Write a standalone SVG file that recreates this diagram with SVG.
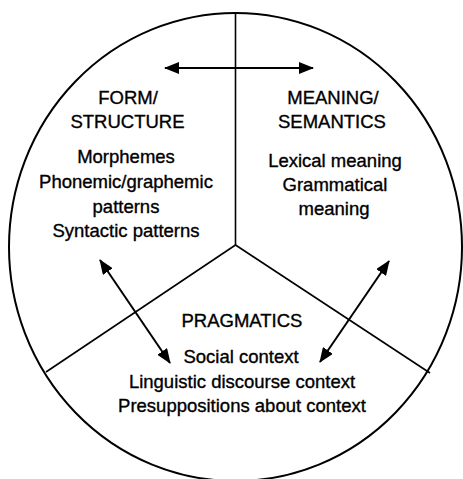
<svg xmlns="http://www.w3.org/2000/svg" width="463" height="479" viewBox="0 0 463 479">
  <style>
    .outline { fill: none; stroke: #000; stroke-width: 2; }
    .divider { fill: none; stroke: #000; stroke-width: 1.6; }
    .link { fill: none; stroke: #000; stroke-width: 2; }
    text { font-family: "Liberation Sans", Arial, Helvetica, sans-serif; font-size: 18.5px; fill: #000; stroke: #000; stroke-width: 0.35; text-anchor: middle; }
  </style>
  <defs>
    <marker id="head" viewBox="0 0 15 12" refX="14" refY="6" markerWidth="15" markerHeight="12" markerUnits="userSpaceOnUse" orient="auto-start-reverse">
      <path d="M0,0 L15,6 L0,12 Z" fill="#000"/>
    </marker>
  </defs>
  <rect width="463" height="479" fill="#fff"/>

  <!-- outer circle and the three sector dividers -->
  <g id="frame">
    <ellipse class="outline" cx="235.5" cy="247" rx="226.5" ry="234"/>
    <line class="divider" x1="235.5" y1="13" x2="235.5" y2="245"/>
    <line class="divider" x1="235.5" y1="245" x2="46" y2="372"/>
    <line class="divider" x1="235.5" y1="245" x2="430" y2="373"/>
  </g>

  <g id="form">
    <text x="128" y="104">FORM/</text>
    <text x="127.5" y="128">STRUCTURE</text>
    <text x="126" y="163">Morphemes</text>
    <text x="126" y="188">Phonemic/graphemic</text>
    <text x="126" y="213">patterns</text>
    <text x="126" y="237">Syntactic patterns</text>
  </g>

  <g id="meaning">
    <text x="333" y="104">MEANING/</text>
    <text x="332" y="128">SEMANTICS</text>
    <text x="335" y="167">Lexical meaning</text>
    <text x="335" y="191">Grammatical</text>
    <text x="334" y="215">meaning</text>
  </g>

  <g id="pragmatics">
    <text x="242" y="327">PRAGMATICS</text>
    <text x="241" y="363">Social context</text>
    <text x="242" y="388">Linguistic discourse context</text>
    <text x="242" y="412">Presuppositions about context</text>
  </g>

  <!-- two-way links between the areas -->
  <g id="connectors">
    <line class="link" x1="165" y1="68" x2="313" y2="68" marker-start="url(#head)" marker-end="url(#head)"/>
    <line class="link" x1="100" y1="260" x2="170" y2="363" marker-start="url(#head)" marker-end="url(#head)"/>
    <line class="link" x1="389" y1="261" x2="320" y2="362" marker-start="url(#head)" marker-end="url(#head)"/>
  </g>
</svg>
